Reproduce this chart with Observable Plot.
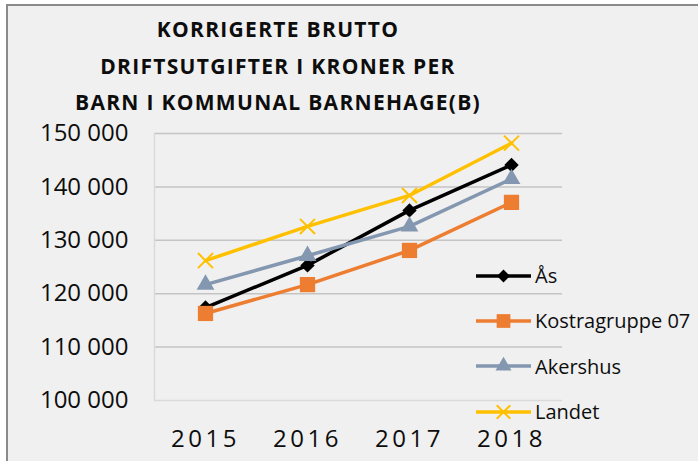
<!DOCTYPE html>
<html><head><meta charset="utf-8">
<script src="https://cdn.jsdelivr.net/npm/d3@7"></script>
<script src="https://cdn.jsdelivr.net/npm/@observablehq/plot@0.6"></script>
<style>
html,body{margin:0;padding:0;background:#fff;}
#chart{position:absolute;left:0;top:0;width:698px;height:461px;overflow:hidden;font-family:"Open Sans",sans-serif;color:#0d0d0d;}
#frame{position:absolute;left:6px;top:4px;width:720px;height:480px;background:#f0f0f0;border-left:2px solid #8a8a8a;border-top:2px solid #8a8a8a;}
#title{position:absolute;left:0;top:11px;width:556px;text-align:center;font-weight:700;font-size:21px;letter-spacing:1.3px;line-height:36.5px;}
#plot{position:absolute;left:0;top:120px;}
#legend{position:absolute;left:474px;top:253px;}
.row{display:flex;align-items:center;height:45.3px;font-size:20px;}
.row svg{width:60px;height:24px;display:block;}
.row span{margin-left:1px;}
[aria-label="x-axis tick label"] text{letter-spacing:3.5px;}
</style>
</head><body>
<div id="chart">
  <div id="frame"></div>
  <div id="title"></div>
  <div id="plot"></div>
  <div id="legend"></div>
</div>
<script>
const titleLines = ["KORRIGERTE BRUTTO", "DRIFTSUTGIFTER I KRONER PER", "BARN I KOMMUNAL BARNEHAGE(B)"];
const years = ["2015", "2016", "2017", "2018"];
const seriesNames = ["Ås", "Kostragruppe 07", "Akershus", "Landet"];
const aas = [117400, 125300, 135600, 144100];
const kostra = [116300, 121700, 128100, 137100];
const akershus = [121700, 127100, 132600, 141500];
const landet = [126200, 132600, 138400, 148200];
const yTicks = [100000, 110000, 120000, 130000, 140000, 150000];

const seriesValues = [aas, kostra, akershus, landet];
const colors = ["#000000", "#ED7D31", "#8497B0", "#FFC000"];
const symbols = ["diamond2", "square", "triangle", "times"];
const radii = [6.5, 8.6, 6.6, 6.9];

document.getElementById("title").innerHTML = titleLines.join("<br>");

const fmt = d3.formatLocale({thousands: " ", grouping: [3], decimal: ",", currency: ["", ""]}).format(",d");

const marks = [
  Plot.gridY(yTicks.filter(d => d > 100000), {stroke: "#c4c4c4", strokeOpacity: 1, strokeWidth: 1.5}),
  Plot.ruleY([100000], {stroke: "#d9d9d9", strokeWidth: 1.5}),
  Plot.frame({anchor: "left", stroke: "#d9d9d9", strokeWidth: 1.5}),
  Plot.axisY({ticks: yTicks, tickFormat: fmt, tickSize: 0, tickPadding: 26, label: null}),
  Plot.axisX({tickSize: 0, tickPadding: 29, label: null})
];

seriesNames.forEach((name, i) => {
  const data = years.map((y, j) => ({year: y, value: seriesValues[i][j], series: name}));
  marks.push(Plot.line(data, {x: "year", y: "value", stroke: colors[i], strokeWidth: 3.5, strokeLinejoin: "round"}));
  if (symbols[i] === "times") {
    marks.push(Plot.dot(data, {x: "year", y: "value", symbol: "times", r: radii[i], stroke: colors[i], strokeWidth: 2, fill: "none"}));
  } else {
    marks.push(Plot.dot(data, {x: "year", y: "value", symbol: symbols[i], r: radii[i], fill: colors[i], stroke: "none"}));
  }
});

const plot = Plot.plot({
  width: 698,
  height: 341,
  marginTop: 13,
  marginBottom: 61,
  marginLeft: 154,
  marginRight: 136,
  style: {background: "transparent", fontFamily: "Open Sans, sans-serif", fontSize: "24px", color: "#0d0d0d", overflow: "visible"},
  x: {type: "point", domain: years, padding: 0.5, axis: null, label: null},
  y: {domain: [100000, 150000], axis: null, label: null},
  marks
});
document.getElementById("plot").appendChild(plot);

// legend
const legend = document.getElementById("legend");
const symMap = {diamond2: d3.symbolDiamond2, square: d3.symbolSquare, triangle: d3.symbolTriangle, times: d3.symbolTimes};
seriesNames.forEach((name, i) => {
  const row = document.createElement("div");
  row.className = "row";
  const svg = d3.create("svg").attr("viewBox", "0 0 60 24");
  svg.append("line").attr("x1", 2).attr("x2", 57).attr("y1", 12).attr("y2", 12)
    .attr("stroke", colors[i]).attr("stroke-width", 3.5);
  const r = radii[i] * 0.9;
  const path = svg.append("path").attr("transform", "translate(29.5,12)")
    .attr("d", d3.symbol(symMap[symbols[i]], Math.PI * r * r)());
  if (symbols[i] === "times") path.attr("fill", "none").attr("stroke", colors[i]).attr("stroke-width", 2);
  else path.attr("fill", colors[i]);
  row.appendChild(svg.node());
  const span = document.createElement("span");
  span.textContent = name;
  row.appendChild(span);
  legend.appendChild(row);
});
</script>
</body></html>
